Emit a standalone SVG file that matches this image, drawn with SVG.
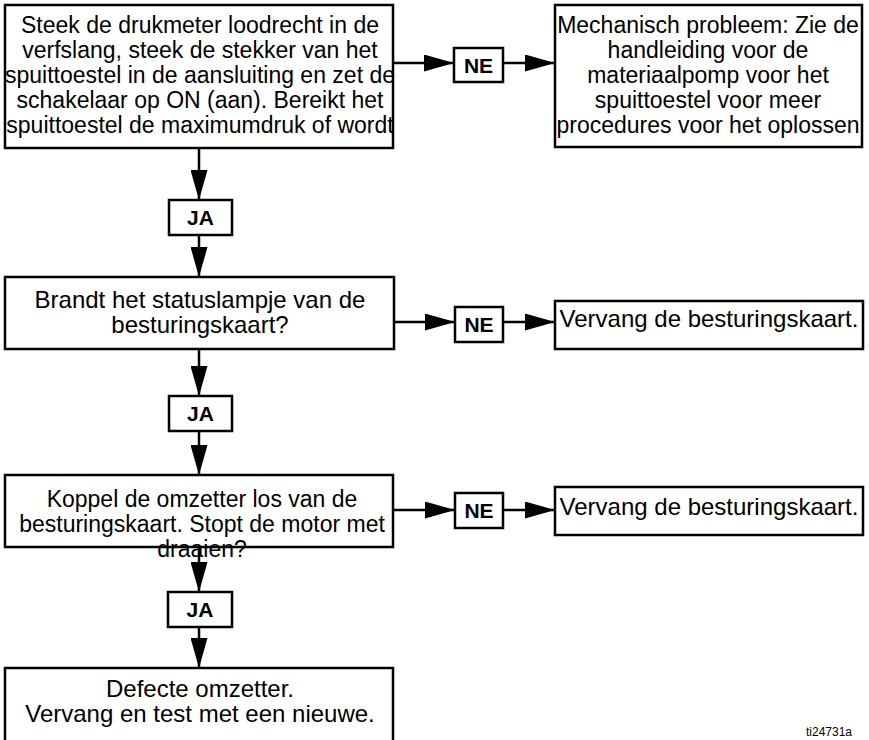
<svg xmlns="http://www.w3.org/2000/svg" width="869" height="740" viewBox="0 0 869 740">
<defs>
<style>
.box{fill:#fff;stroke:#000;stroke-width:2.5}
.t{font-family:"Liberation Sans",Arial,sans-serif;font-size:23px;fill:#000;text-anchor:middle}
.t24{font-size:24px}
.lbl{font-family:"Liberation Sans",Arial,sans-serif;font-size:21px;font-weight:bold;fill:#000;text-anchor:middle}
.c{fill:none;stroke:#000;stroke-width:2.5;marker-end:url(#ah)}
</style>
<marker id="ah" viewBox="0 0 30 17" refX="30" refY="8.5" markerWidth="30" markerHeight="17" markerUnits="userSpaceOnUse" orient="auto">
<path d="M0,0 L30,8.5 L0,17 z" fill="#000"/>
</marker>
</defs>
<rect width="869" height="740" fill="#fff"/>
<g id="n1">
<rect class="box" x="5" y="5" width="388" height="143"/>
<text class="t" x="200" y="33">Steek de drukmeter loodrecht in de</text>
<text class="t" x="200" y="58">verfslang, steek de stekker van het</text>
<text class="t" x="200" y="83">spuittoestel in de aansluiting en zet de</text>
<text class="t" x="200" y="108">schakelaar op ON (aan). Bereikt het</text>
<text class="t" x="200" y="133">spuittoestel de maximumdruk of wordt</text>
</g>
<g id="n2">
<rect class="box" x="555" y="5" width="307" height="142"/>
<text class="t" x="708" y="33">Mechanisch probleem: Zie de</text>
<text class="t" x="708" y="58">handleiding voor de</text>
<text class="t" x="708" y="83">materiaalpomp voor het</text>
<text class="t" x="708" y="108">spuittoestel voor meer</text>
<text class="t" x="708" y="133">procedures voor het oplossen</text>
</g>
<g id="ne1"><rect class="box" x="454" y="48" width="49" height="34"/><text class="lbl" x="478.5" y="73">NE</text></g>
<g id="ja1"><rect class="box" x="169" y="200" width="63" height="35"/><text class="lbl" x="200.5" y="225">JA</text></g>
<g id="n3">
<rect class="box" x="5" y="277" width="389" height="72"/>
<text class="t t24" x="200" y="308">Brandt het statuslampje van de</text>
<text class="t t24" x="200" y="333">besturingskaart?</text>
</g>
<g id="ne2"><rect class="box" x="455" y="307" width="48" height="35"/><text class="lbl" x="479" y="332">NE</text></g>
<g id="n4">
<rect class="box" x="555" y="301" width="308" height="48"/>
<text class="t t24" x="709" y="327">Vervang de besturingskaart.</text>
</g>
<g id="ja2"><rect class="box" x="169" y="396" width="63" height="35"/><text class="lbl" x="200.5" y="421">JA</text></g>
<g id="n5">
<rect class="box" x="5" y="475" width="388" height="72"/>
<text class="t" x="202" y="507">Koppel de omzetter los van de</text>
<text class="t" x="202" y="532">besturingskaart. Stopt de motor met</text>
<text class="t" x="202" y="557">draaien?</text>
</g>
<g id="ne3"><rect class="box" x="455" y="493" width="48" height="35"/><text class="lbl" x="479" y="518">NE</text></g>
<g id="n7">
<rect class="box" x="555" y="487" width="308" height="48"/>
<text class="t t24" x="709" y="515">Vervang de besturingskaart.</text>
</g>
<g id="ja3"><rect class="box" x="168" y="592" width="64" height="35"/><text class="lbl" x="200" y="617">JA</text></g>
<g id="n6">
<rect class="box" x="5" y="668" width="388" height="80"/>
<text class="t t24" x="200" y="697">Defecte omzetter.</text>
<text class="t t24" x="200" y="722">Vervang en test met een nieuwe.</text>
</g>
<g id="connectors">
<path class="c" d="M393,63 H454"/>
<path class="c" d="M503,63 H555"/>
<path class="c" d="M199,149 V200"/>
<path class="c" d="M199,235 V277"/>
<path class="c" d="M394,322 H455"/>
<path class="c" d="M503,322 H555"/>
<path class="c" d="M199,349 V396"/>
<path class="c" d="M199,431 V475"/>
<path class="c" d="M393,510 H455"/>
<path class="c" d="M503,510 H555"/>
<path class="c" d="M199,547 V592"/>
<path class="c" d="M199,627 V668"/>
</g>
<text x="829" y="736" style="font-family:'Liberation Sans',Arial,sans-serif;font-size:12px;text-anchor:middle;fill:#000">ti24731a</text>
</svg>
